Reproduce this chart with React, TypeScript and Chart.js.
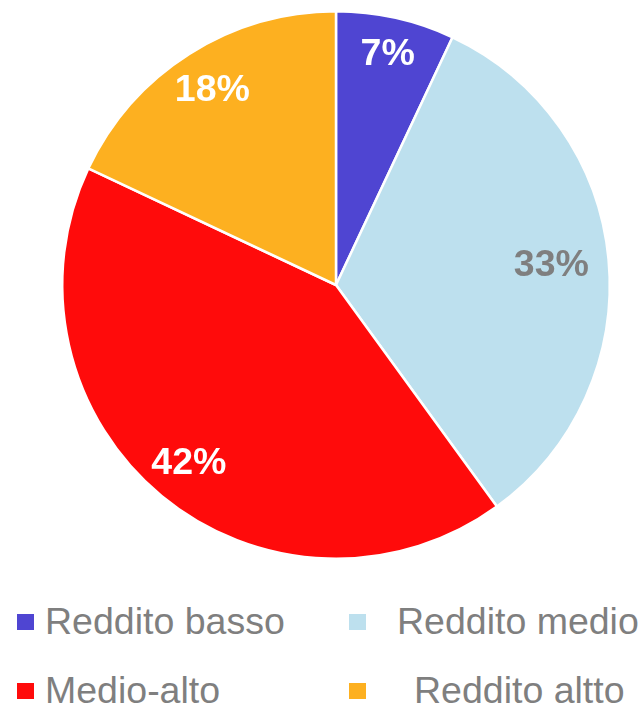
import React, { useEffect, useRef } from "react";
import { Chart, registerables } from "chart.js";

Chart.register(...registerables);

const categories = ["Reddito basso", "Reddito medio", "Medio-alto", "Reddito altto"];
const values = [7, 33, 42, 18];
const sliceColors = ["#4F45D2", "#BDE0EE", "#FF0B0B", "#FDB020"];
const labelColors = ["#FFFFFF", "#7F7F7F", "#FFFFFF", "#FFFFFF"];
const labelRadius = [0.865, 0.79, 0.843, 0.843];

// legend layout (left, top) for marker and text
const legendMarkers = [
  [17, 614],
  [349, 614],
  [17, 683],
  [349, 683],
];
const legendText = [
  [45, 603],
  [397, 603],
  [45, 672],
  [414, 672],
];

const pieLabels = {
  id: "pieLabels",
  afterDatasetsDraw(chart: any) {
    const ctx = chart.ctx;
    const meta = chart.getDatasetMeta(0);
    ctx.save();
    ctx.font = "bold 37.5px 'Liberation Sans', Arial, sans-serif";
    ctx.textAlign = "center";
    ctx.textBaseline = "middle";
    meta.data.forEach((arc: any, i: number) => {
      const p = arc.getProps(["x", "y", "startAngle", "endAngle", "outerRadius"], true);
      const mid = (p.startAngle + p.endAngle) / 2;
      const r = p.outerRadius * labelRadius[i];
      const x = p.x + Math.cos(mid) * r;
      const y = p.y + Math.sin(mid) * r;
      ctx.fillStyle = labelColors[i];
      ctx.fillText(values[i] + "%", x, y + 1);
    });
    ctx.restore();
  },
};

export default function App() {
  const ref = useRef<HTMLCanvasElement | null>(null);

  useEffect(() => {
    document.body.style.margin = "0";
    const chart = new Chart(ref.current as HTMLCanvasElement, {
      type: "pie",
      data: {
        labels: categories,
        datasets: [
          {
            data: values,
            backgroundColor: sliceColors,
            borderColor: "#FFFFFF",
            borderWidth: 2.5,
          },
        ],
      },
      options: {
        animation: false,
        responsive: false,
        layout: { padding: { top: 10, bottom: 10, left: 33, right: 0 } },
        plugins: {
          legend: { display: false },
          tooltip: { enabled: false },
        },
      },
      plugins: [pieLabels],
    });
    return () => chart.destroy();
  }, []);

  return (
    <div style={{ position: "absolute", left: 0, top: 0, width: 639, height: 707, background: "#fff", overflow: "hidden" }}>
      <canvas ref={ref} width={639} height={570} style={{ position: "absolute", left: 0, top: 0, width: 639, height: 570 }} />
      {categories.map((c, i) => (
        <React.Fragment key={c}>
          <div
            style={{
              position: "absolute",
              left: legendMarkers[i][0],
              top: legendMarkers[i][1],
              width: 17,
              height: 16,
              background: sliceColors[i],
            }}
          />
          <div
            style={{
              position: "absolute",
              left: legendText[i][0],
              top: legendText[i][1],
              fontFamily: "'Liberation Sans', Arial, sans-serif",
              fontSize: 37.5,
              lineHeight: "37.5px",
              color: "#7F7F7F",
              whiteSpace: "nowrap",
            }}
          >
            {c}
          </div>
        </React.Fragment>
      ))}
    </div>
  );
}
